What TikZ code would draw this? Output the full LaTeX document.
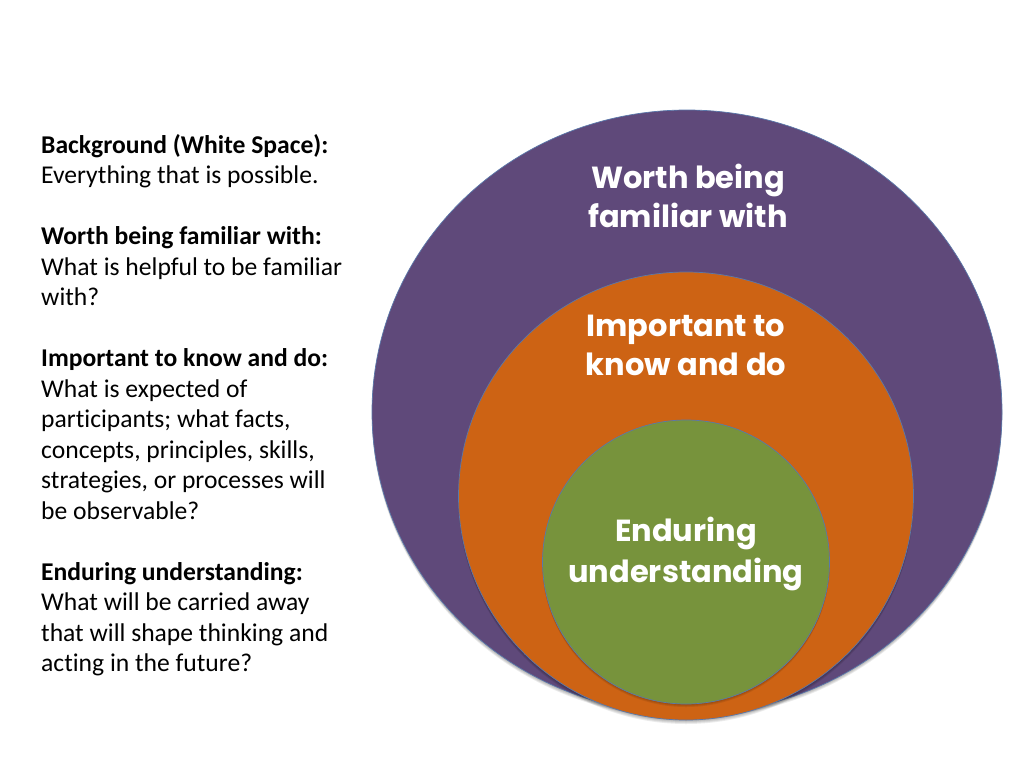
\documentclass[tikz,border=0pt]{standalone}
\usepackage{fontspec}
\setmainfont{Carlito}[Ligatures=NoCommon]
\newfontfamily\circfont{Poppins}
\usetikzlibrary{shapes.geometric}
\definecolor{cpurple}{RGB}{95,73,122}
\definecolor{corange}{RGB}{205,99,20}
\definecolor{cgreen}{RGB}{119,147,60}
\definecolor{cedge}{RGB}{90,120,170}
\tikzset{
  ring/.style={ellipse, inner sep=0pt, draw=cedge, line width=0.7pt},
  shade/.style={ellipse, inner sep=0pt, fill=black, fill opacity=0.08, draw=none},
  txt/.style={anchor=base west, inner sep=0pt, font=\fontsize{25.6}{30.5}\selectfont},
  head/.style={txt, font=\fontsize{25.6}{30.5}\selectfont\bfseries},
  lab/.style={anchor=base, inner sep=0pt, text=white, font=\circfont\fontsize{30.5}{36}\selectfont\bfseries}
}
\begin{document}
\begin{tikzpicture}[x=1pt,y=-1pt]
\useasboundingbox[fill=white] (0,0) rectangle (1024,768);
% shadows
\foreach \d in {1,2,3,4}{
  \node[shade, minimum width=630pt, minimum height=604pt] at (687,412+\d) {};
}
\node[ring, fill=cpurple, minimum width=630pt, minimum height=604pt] (purple) at (687,412) {};
\foreach \d in {1,2,3,4}{
  \node[shade, minimum width=455pt, minimum height=448pt] at (686,496+\d) {};
}
\node[ring, fill=corange, minimum width=455pt, minimum height=448pt] (orange) at (686,496) {};
\foreach \d in {1,2,3}{
  \node[shade, minimum width=287pt, minimum height=284pt] at (686,562+\d) {};
}
\node[ring, fill=cgreen, minimum width=287pt, minimum height=284pt] (green) at (686,562) {};
% circle labels
\node[lab] (w1) at (688,188) {Worth being};
\node[lab] (w2) at (688,227) {familiar with};
\node[lab] (i1) at (686,336) {Important to};
\node[lab] (i2) at (686,375) {know and do};
\node[lab] (e1) at (686,541) {Enduring};
\node[lab] (e2) at (686,582) {understanding};
% left text
\node[head] (t1) at (41,153) {Background (White Space):};
\node[txt] (t2) at (41,183.5) {Everything that is possible.};
\node[head] (t4) at (41,244.5) {Worth being familiar with:};
\node[txt] (t5) at (41,275) {What is helpful to be familiar};
\node[txt] (t6) at (41,305.5) {with?};
\node[head] (t8) at (41,366.5) {Important to know and do:};
\node[txt] (t9) at (41,397) {What is expected of};
\node[txt] (t10) at (41,427.5) {participants; what facts,};
\node[txt] (t11) at (41,458) {concepts, principles, skills,};
\node[txt] (t12) at (41,488.5) {strategies, or processes will};
\node[txt] (t13) at (41,519) {be observable?};
\node[head] (t15) at (41,580) {Enduring understanding:};
\node[txt] (t16) at (41,610.5) {What will be carried away};
\node[txt] (t17) at (41,641) {that will shape thinking and};
\node[txt] (t18) at (41,671.5) {acting in the future?};
\end{tikzpicture}
\end{document}
